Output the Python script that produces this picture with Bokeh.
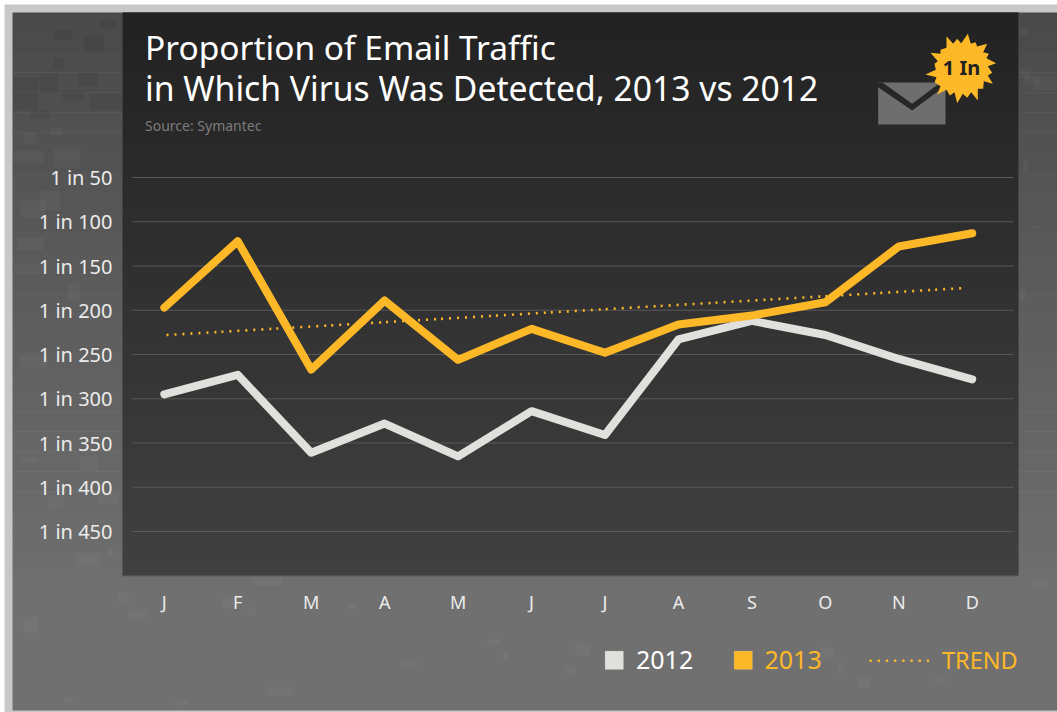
from bokeh.plotting import figure
from bokeh.models import BoxAnnotation, PolyAnnotation, Label, FixedTicker
from bokeh.embed import file_html
from bokeh.resources import INLINE

months = ["J", "F", "M", "A", "M", "J", "J", "A", "S", "O", "N", "D"]
positions = list(range(12))
values_2012 = [295, 273, 361, 328, 365, 314, 341, 233, 212, 228, 255, 278]
values_2013 = [197, 122, 267, 189, 256, 221, 248, 216, 206, 191, 128, 113]
trend_x = [0.03, 10.87]
trend_values = [228, 175]
y_ticks = [50, 100, 150, 200, 250, 300, 350, 400, 450]
y_labels = ["1 in %d" % v for v in y_ticks]

GOLD = "#fdb827"
LIGHT = "#e0e1dd"
FONT = "Noto Sans"
W, H = 1057, 712

# decorative mottling of the page background (x0, y0, x1, y1)
dark_patches = [(83, 35, 103, 50), (53, 30, 72, 40), (53, 58, 63, 68), (77, 72, 97, 85), (13, 77, 37, 110),
                (40, 73, 57, 93), (62, 90, 83, 100), (90, 93, 122, 110), (30, 110, 50, 118), (100, 20, 115, 28)]
light_patches = [(50, 127, 62, 135), (23, 132, 35, 143), (13, 150, 43, 163), (53, 147, 80, 167), (20, 200, 45, 217),
                 (40, 190, 60, 210), (17, 237, 43, 250), (13, 263, 47, 273), (67, 283, 80, 300),
                 (20, 355, 47, 367), (20, 457, 37, 462), (80, 455, 98, 470), (47, 495, 63, 508), (98, 493, 117, 503),
                 (77, 555, 98, 565), (107, 547, 113, 555),
                 (1018, 68, 1030, 78), (1023, 74, 1040, 84), (1033, 77, 1057, 90), (1018, 28, 1027, 36),
                 (1023, 158, 1027, 173), (1030, 225, 1038, 228), (1018, 288, 1025, 300),
                 (252, 577, 282, 585), (222, 597, 235, 608), (247, 607, 255, 615), (348, 603, 355, 610),
                 (400, 662, 418, 667), (487, 639, 500, 644), (502, 652, 507, 660), (563, 665, 575, 673),
                 (575, 643, 590, 655), (267, 687, 292, 695), (117, 592, 128, 603), (128, 610, 147, 618),
                 (23, 617, 37, 632), (65, 697, 72, 702), (173, 700, 187, 705), (857, 677, 870, 687),
                 (933, 677, 945, 683), (837, 662, 843, 673), (820, 647, 833, 657), (1033, 580, 1047, 587)]


def sx(x):
    return x


def sy(y):
    return H - y


p = figure(width=W, height=H, frame_width=W, frame_height=H, output_backend="svg", toolbar_location=None,
           x_range=(-2.23, 12.161), y_range=(654.5, -150),
           min_border_left=0, min_border_right=0, min_border_top=0, min_border_bottom=0)
p.background_fill_color = None
p.border_fill_color = "#ffffff"
p.outline_line_color = None


def box(x0, y0, x1, y1, color, alpha=1, line_color=None, level="image"):
    p.add_layout(BoxAnnotation(left=sx(x0), right=sx(x1), top=sy(y0), bottom=sy(y1),
                               left_units="screen", right_units="screen", top_units="screen", bottom_units="screen",
                               fill_color=color, fill_alpha=alpha, line_color=line_color, level=level))


def poly(pts, color):
    p.add_layout(PolyAnnotation(xs=[sx(a) for a, _ in pts], ys=[sy(b) for _, b in pts],
                                xs_units="screen", ys_units="screen",
                                fill_color=color, fill_alpha=1, line_color=None, level="annotation"))


def label(x, y, text, size, color, align="left", style="normal"):
    p.add_layout(Label(x=sx(x), y=sy(y - 0.42 * size), x_units="screen", y_units="screen", text=text,
                       text_font=FONT, text_font_size="%.1fpx" % size, text_color=color,
                       text_align=align, text_baseline="alphabetic", text_font_style=style))


def lerp(a, b, t):
    return int(round(a + (b - a) * t))


# outer border and grey page
box(4, 4, 1057, 712, "#c8c8c8")
n = 35
for i in range(n):
    y0 = 12 + i * (698 / n)
    g = lerp(0x4a, 0x70, min(1, i / (n * 0.82)))
    box(12, y0, 1057, min(y0 + 698 / n + 0.5, 710), "#%02x%02x%02x" % (g, g, g))
for a, b, c, d in dark_patches:
    box(a, b, c, d, "#000000", alpha=0.06)
for a, b, c, d in light_patches:
    box(a, b, c, d, "#ffffff", alpha=0.03)
# dark panel
box(122, 12, 1018, 576, "#5e5e5e")
for i in range(n):
    y0 = 12 + i * (563 / n)
    g = lerp(0x22, 0x40, i / (n - 1))
    box(122, y0, 1018, y0 + 563 / n + 0.5 if i < n - 1 else 575, "#%02x%02x%02x" % (g, g, g))

p.xgrid.visible = False
p.ygrid.visible = False
p.segment([-0.436] * len(y_ticks), y_ticks, [11.56] * len(y_ticks), y_ticks,
          line_color="#585858", line_width=1.2)

p.xaxis.ticker = FixedTicker(ticks=positions)
p.xaxis.major_label_overrides = {i: m for i, m in zip(positions, months)}
p.yaxis.ticker = FixedTicker(ticks=y_ticks)
p.yaxis.major_label_overrides = {v: s for v, s in zip(y_ticks, y_labels)}
for ax in (p.xaxis, p.yaxis):
    ax.axis_line_color = None
    ax.major_tick_line_color = None
    ax.minor_tick_line_color = None
    ax.major_label_text_font = FONT
    ax.major_label_text_color = "#ececec"
p.xaxis.major_label_text_font_size = "18px"
p.yaxis.major_label_text_font_size = "20px"
p.xaxis.major_label_standoff = -129
p.yaxis.major_label_standoff = -118

p.line(trend_x, trend_values, line_color=GOLD, line_width=2.6, line_dash="2 6 2 6 2 6 2 6 2 6 2 6 2 5")
p.line(positions, values_2012, line_color=LIGHT, line_width=8, line_cap="round", line_join="round")
p.line(positions, values_2013, line_color=GOLD, line_width=8, line_cap="round", line_join="round")

# title
label(144.5, 60.5, "Proportion of Email Traffic", 33.5, "#ffffff")
label(144.5, 102, "in Which Virus Was Detected, 2013 vs 2012", 33.7, "#ffffff")
label(144.5, 131, "Source: Symantec", 14, "#7c7c7c")

# envelope and badge
zx = lambda v: 860 + v / 3
zy = lambda v: 20 + v / 3
poly([(zx(a), zy(b)) for a, b in [(53, 186), (255, 186), (255, 312), (53, 312)]], "#6e6e6e")
poly([(zx(a), zy(b)) for a, b in [(53, 186), (66, 186), (155, 250), (240, 186), (255, 186), (255, 196),
                                  (155, 270), (53, 200)]], "#262626")
star = [(322, 40), (331, 70), (345, 65), (350, 78), (380, 70), (368, 95), (385, 100), (378, 113), (407, 128),
        (382, 137), (395, 157), (382, 165), (397, 190), (370, 182), (368, 205), (352, 205), (352, 240), (332, 215),
        (320, 232), (307, 220), (290, 248), (282, 215), (268, 225), (258, 208), (230, 222), (240, 197), (222, 185),
        (228, 170), (195, 162), (226, 148), (222, 130), (232, 122), (210, 97), (240, 100), (240, 88), (258, 82),
        (258, 47), (278, 70), (290, 55), (302, 68)]
poly([(zx(a), zy(b)) for a, b in star], GOLD)
label(961, 75, "1 In", 20, "#222222", align="center", style="bold")

# legend
box(604.5, 650.5, 623, 669, LIGHT, line_color="#a8a8a8", level="annotation")
label(635.5, 670, "2012", 25, "#ffffff")
box(733.5, 650.5, 752, 669, GOLD, line_color="#a8a8a8", level="annotation")
label(764, 670, "2013", 25, GOLD)
for i in range(8):
    x0 = 869 + i * 8.2
    box(x0, 659, x0 + 2.2, 661.5, GOLD, level="annotation")
label(941.5, 669.5, "TREND", 23.5, GOLD)

open("out.html", "w").write(file_html(p, INLINE))
